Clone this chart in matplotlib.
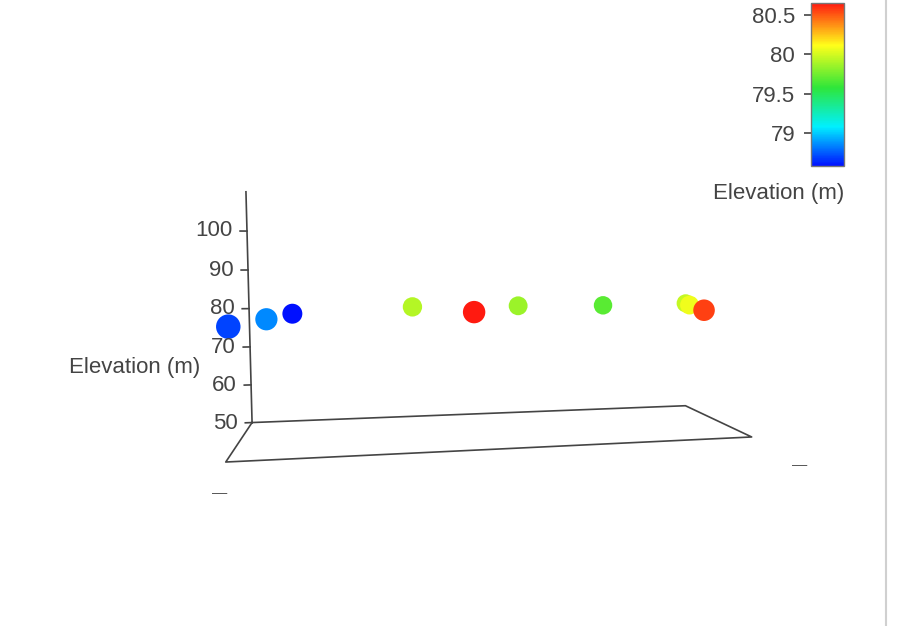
import numpy as np
import matplotlib
matplotlib.use('Agg')
import matplotlib.pyplot as plt
from matplotlib.colors import LinearSegmentedColormap
from matplotlib.lines import Line2D

plt.rcParams['font.family'] = ['Liberation Sans', 'DejaVu Sans']

# survey points: easting / northing (relative, %) and elevation (m)
east = [0.75, 5.6, 9, 34.8, 45, 58.8, 79, 99.5, 97.2, 91]
north = [6, 47, 98, 100, 20, 100, 100, 100, 77, 12]
elev = [78.70, 78.85, 78.58, 79.92, 80.65, 79.85, 79.68, 79.96, 80.07, 80.56]

z_ticks = [50, 60, 70, 80, 90, 100]
z_range = [50, 110]
cbar_ticks = [79, 79.5, 80, 80.5]

txt = '#444444'
fs = 16

cmap = LinearSegmentedColormap.from_list(
    'elev', [(0.0, '#0010ff'), (0.24, '#00f0ff'), (0.48, '#2ee63a'),
             (0.74, '#ffff1a'), (1.0, '#ff1a10')])

fig = plt.figure(figsize=(9.12, 6.26), dpi=100)
ax = fig.add_axes([183.5/912, 7/626, 600/912, 600/626], projection='3d')
ax.set_proj_type('persp', focal_length=0.222)
ax.set_box_aspect((1.502, 0.453, 0.743), zoom=0.911)
ax.view_init(elev=4.5, azim=-100)
ax.set_xlim(0, 100)
ax.set_ylim(0, 100)
ax.set_zlim(*z_range)
ax.set_axis_off()

# marker size shrinks with distance from the camera (like the original 3d view)
M = ax.get_proj()
pts = np.vstack([east, north, elev, np.ones(len(east))])
w = np.abs((M @ pts)[3])
sizes = 1120 / w**2

sc = ax.scatter(east, north, elev, c=elev, cmap=cmap,
                vmin=min(elev), vmax=max(elev), s=sizes,
                depthshade=False, edgecolors='none', alpha=1)

# floor box and the z axis
x0, x1 = ax.get_xlim()
y0, y1 = ax.get_ylim()
zb = z_range[0]
ax.plot([x0, x1, x1, x0, x0], [y1, y1, y0, y0, y1], [zb]*5, color='#444444', lw=1.2)
ax.plot([x0, x0], [y1, y1], z_range, color='#444444', lw=1.2)
for t in z_ticks:
    ax.plot([x0, x0 - 1.4], [y1, y1], [t, t], color='#444444', lw=1.2)
    ax.text(x0 - 3.0, y1, t, str(t), ha='right', va='center', fontsize=fs, color=txt)
ax.text(x0 - 10.2, y1, 65, 'Elevation (m)', ha='right', va='center', fontsize=fs, color=txt)

# empty x / y axis labels shown as dashes
fig.text(220/912, 1 - 493/626, '—', ha='center', va='center', fontsize=11, color='#555555')
fig.text(800/912, 1 - 465/626, '—', ha='center', va='center', fontsize=11, color='#555555')

# colorbar
cax = fig.add_axes([811/912, 1 - 166/626, 33/912, 163/626])
cb = fig.colorbar(sc, cax=cax)
cb.set_ticks(cbar_ticks)
cb.set_ticklabels(['{:g}'.format(v) for v in cbar_ticks])
cax.yaxis.set_ticks_position('left')
cax.yaxis.set_label_position('left')
cax.tick_params(colors=txt, labelsize=fs, length=5, width=1.2, pad=6.5)
cb.outline.set_edgecolor('#777777')
cb.outline.set_linewidth(1)
cax.text(1, -0.166, 'Elevation (m)', transform=cax.transAxes, ha='right', va='center',
         fontsize=fs, color=txt)

fig.add_artist(Line2D([886/912, 886/912], [0, 1], transform=fig.transFigure,
                      color='#d0d0d0', lw=1.5))

plt.savefig('out.png', dpi=100)
